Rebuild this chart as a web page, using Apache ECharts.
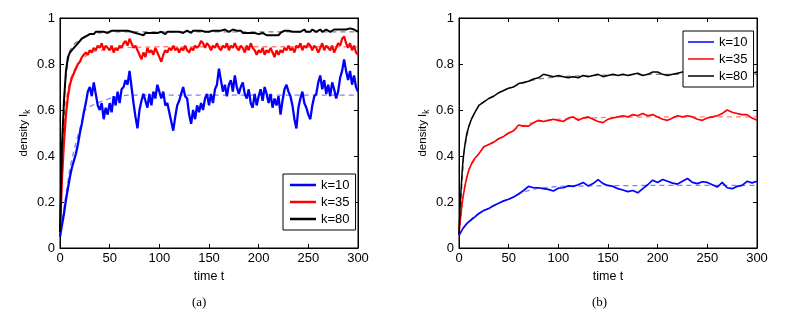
<!DOCTYPE html>
<html><head><meta charset="utf-8">
<script src="https://cdn.jsdelivr.net/npm/echarts@6/dist/echarts.min.js"></script>
<style>html,body{margin:0;padding:0;background:#fff}#c{width:791px;height:313px}</style>
</head><body><div id="c"></div>
<script>
// ---------- data ----------
const seriesNames = ['k=10', 'k=35', 'k=80'];
const colors = ['#0000ff', '#ff0000', '#000000'];
const captions = ['(a)', '(b)'];
const xTickValues = [0, 50, 100, 150, 200, 250, 300];
const yTickValues = [0, 0.2, 0.4, 0.6, 0.8, 1];

// panel (a): sampled every 2 time units, t = 0..300
const timeA = [];
for (let t = 0; t <= 300; t += 2) timeA.push(t);

const blueA = [
  .05,.10,.15,.21,.26,.31,.35,.38,.41,.45,
  .50,.54,.59,.63,.68,.70,.66,.72,.67,.62,
  .60,.63,.56,.61,.58,.63,.59,.66,.62,.68,
  .63,.69,.70,.73,.71,.77,.70,.63,.57,.52,
  .60,.64,.67,.64,.61,.67,.62,.68,.65,.71,
  .68,.65,.68,.62,.63,.59,.55,.51,.57,.62,
  .64,.67,.70,.66,.65,.58,.54,.60,.56,.62,
  .59,.63,.60,.65,.67,.62,.67,.63,.69,.71,
  .78,.73,.68,.71,.66,.71,.73,.68,.75,.70,
  .67,.70,.72,.67,.65,.69,.63,.61,.67,.62,
  .66,.69,.64,.70,.67,.63,.67,.61,.65,.62,
  .66,.58,.64,.69,.71,.68,.66,.62,.56,.52,
  .61,.65,.68,.63,.61,.58,.56,.62,.66,.67,
  .72,.75,.69,.73,.67,.71,.66,.72,.69,.65,
  .68,.74,.77,.82,.77,.73,.77,.71,.75,.70,
  .68
];
const redA = [
  .07,.30,.46,.58,.66,.71,.74,.76,.78,.80,
  .81,.83,.84,.85,.84,.86,.85,.87,.86,.88,
  .87,.89,.86,.88,.87,.86,.88,.85,.87,.86,
  .88,.87,.89,.90,.88,.91,.89,.87,.88,.86,
  .84,.82,.85,.83,.87,.85,.86,.84,.87,.85,
  .83,.81,.84,.86,.85,.87,.86,.88,.86,.87,
  .85,.87,.86,.88,.86,.85,.87,.86,.88,.87,
  .88,.90,.89,.87,.89,.88,.86,.88,.87,.89,
  .87,.86,.88,.87,.89,.86,.88,.87,.89,.87,
  .86,.88,.87,.85,.88,.86,.89,.87,.86,.84,
  .86,.85,.87,.84,.86,.85,.87,.85,.83,.86,
  .84,.86,.85,.87,.86,.88,.86,.87,.85,.88,
  .87,.89,.86,.88,.87,.89,.88,.86,.88,.87,
  .85,.87,.89,.86,.88,.87,.86,.88,.85,.87,
  .89,.88,.91,.92,.89,.87,.89,.86,.88,.85,
  .84
];
const blackA = [
  .07,.45,.64,.77,.83,.85,.86,.87,.88,.885,
  .90,.91,.915,.92,.925,.93,.935,.93,.94,.935,
  .94,.935,.94,.945,.935,.94,.945,.94,.945,.94,
  .945,.95,.945,.95,.945,.95,.94,.945,.935,.94,
  .93,.935,.925,.935,.93,.935,.93,.935,.93,.935,
  .93,.94,.935,.93,.94,.935,.94,.935,.94,.935,
  .94,.945,.935,.94,.945,.94,.935,.945,.94,.945,
  .94,.945,.95,.94,.945,.94,.935,.945,.94,.945,
  .94,.945,.94,.95,.945,.94,.945,.95,.955,.945,
  .94,.945,.935,.94,.935,.93,.935,.93,.935,.93,
  .93,.925,.935,.93,.925,.93,.925,.92,.925,.92,
  .925,.935,.94,.945,.94,.945,.95,.94,.945,.94,
  .945,.94,.945,.95,.94,.945,.94,.95,.945,.94,
  .945,.95,.94,.945,.95,.945,.94,.945,.95,.945,
  .95,.955,.95,.955,.95,.945,.955,.95,.95,.945,
  .94
];

// panel (b)
const timeB = [0,1,2,3,4,6,8,10,13,16,20,
  25,30,35,40,45,50,55,60,65,70,
  75,80,85,90,95,100,105,110,115,120,
  125,130,135,140,145,150,155,160,165,170,
  175,180,185,190,195,200,205,210,215,220,
  225,230,235,240,245,250,255,260,265,270,
  275,280,285,290,295,300];
const blueB = [.055,.06,.07,.078,.085,.097,.107,.115,.125,.135,.15,
  .163,.172,.185,.195,.205,.212,.222,.235,.25,.268,
  .262,.262,.258,.255,.248,.26,.262,.27,.268,.275,
  .285,.27,.28,.297,.28,.272,.268,.258,.252,.245,
  .25,.24,.258,.275,.295,.285,.298,.29,.282,.278,
  .29,.302,.285,.28,.288,.285,.275,.265,.285,.262,
  .258,.268,.272,.29,.283,.29];
const redB = [.06,.11,.15,.19,.22,.27,.31,.34,.37,.39,.41,
  .44,.45,.46,.475,.485,.50,.51,.535,.53,.53,
  .545,.555,.55,.555,.56,.555,.55,.565,.57,.555,
  .565,.57,.56,.55,.545,.56,.565,.57,.575,.57,
  .58,.575,.585,.575,.58,.57,.56,.555,.565,.575,
  .57,.575,.57,.56,.555,.565,.57,.575,.585,.60,
  .59,.585,.58,.58,.565,.555];
const blackB = [.06,.17,.25,.32,.38,.45,.50,.53,.565,.59,.62,
  .635,.65,.66,.675,.685,.695,.70,.715,.72,.725,
  .735,.74,.755,.75,.745,.75,.745,.74,.745,.74,
  .75,.745,.75,.755,.745,.75,.755,.75,.755,.75,
  .755,.76,.75,.755,.765,.765,.755,.75,.755,.76,
  .765,.765,.76,.755,.76,.765,.755,.76,.765,.76,
  .765,.755,.76,.765,.76,.765];

// mean-field (dashed) curves
const theoryTime = [0,5,10,15,20,25,30,40,50,60,70,80,100,150,200,250,300];
const theoryBlueA  = [.05,.20,.35,.44,.52,.60,.615,.635,.65,.66,.665,.665,.665,.665,.665,.665,.665];
const theoryRedA   = [.07,.62,.73,.78,.81,.83,.85,.86,.865,.87,.872,.873,.875,.875,.875,.875,.875];
const theoryBlackA = [.07,.72,.86,.89,.905,.92,.93,.935,.94,.94,.94,.94,.94,.94,.94,.94,.94];
const theoryBlueB  = [.055,.09,.115,.135,.15,.163,.172,.195,.212,.235,.25,.26,.268,.271,.272,.272,.272];
const theoryRedB   = [.06,.25,.34,.38,.41,.44,.45,.475,.50,.525,.54,.55,.56,.568,.57,.57,.57];
const theoryBlackB = [.06,.42,.53,.58,.62,.635,.65,.675,.695,.71,.725,.735,.745,.752,.755,.755,.755];

// ---------- chart ----------
const FONT = 'Liberation Sans, Arial, Helvetica, sans-serif';
const pair = (ts, vs) => ts.map((t, i) => [t, vs[i]]);

const grids = [
  { left: 60, top: 18, width: 298, height: 230 },
  { left: 459, top: 18, width: 298, height: 230 }
];

function xAx(gi, pos) {
  const main = pos === 'bottom';
  return {
    type: 'value', gridIndex: gi, position: pos, min: 0, max: 300, interval: 50,
    axisLine: { show: true, onZero: false, lineStyle: { color: '#000', width: 1 } },
    axisTick: { show: true, inside: true, length: 4, lineStyle: { color: '#000' } },
    axisLabel: { show: main, margin: 4, color: '#000', fontSize: 13, fontFamily: FONT },
    splitLine: { show: false },
    name: main ? 'time t' : '', nameLocation: 'middle', nameGap: 19,
    nameTextStyle: { color: '#000', fontSize: 12.5, fontFamily: FONT }
  };
}
function yAx(gi, pos) {
  const main = pos === 'left';
  return {
    type: 'value', gridIndex: gi, position: pos, min: 0, max: 1, interval: 0.2,
    axisLine: { show: true, onZero: false, lineStyle: { color: '#000', width: 1 } },
    axisTick: { show: true, inside: true, length: 4, lineStyle: { color: '#000' } },
    axisLabel: { show: main, margin: 5, color: '#000', fontSize: 13, fontFamily: FONT },
    splitLine: { show: false },
    name: main ? 'density I{s|k}' : '', nameLocation: 'middle', nameGap: 29, nameRotate: 90,
    nameTextStyle: {
      color: '#000', fontSize: 11.5, fontFamily: FONT, lineHeight: 14,
      rich: { s: { fontSize: 8.5, fontFamily: FONT, color: '#000', lineHeight: 10, padding: [8, 0, 0, 0] } }
    }
  };
}

const series = [];
const panels = [
  { t: timeA, data: [blueA, redA, blackA], th: [theoryBlueA, theoryRedA, theoryBlackA], w: [2.3, 2.2, 2.0] },
  { t: timeB, data: [blueB, redB, blackB], th: [theoryBlueB, theoryRedB, theoryBlackB], w: [1.7, 1.6, 1.5] }
];
panels.forEach((p, gi) => {
  p.th.forEach((vals, k) => {
    series.push({
      type: 'line', name: 'theory ' + seriesNames[k], xAxisIndex: gi * 2, yAxisIndex: gi * 2,
      data: pair(theoryTime, vals), showSymbol: false, symbol: 'none', silent: true, z: 1,
      lineStyle: { color: colors[k], width: 1.3, type: [5, 4], opacity: 0.5 }, itemStyle: { color: colors[k] }
    });
  });
  p.data.forEach((vals, k) => {
    series.push({
      type: 'line', name: seriesNames[k], xAxisIndex: gi * 2, yAxisIndex: gi * 2,
      data: pair(p.t, vals), showSymbol: false, symbol: 'none', z: 3,
      lineStyle: { color: colors[k], width: p.w[k] }, itemStyle: { color: colors[k] }
    });
  });
});

const legendBase = {
  orient: 'vertical', data: seriesNames, icon: 'rect', itemWidth: 26, itemGap: 3,
  backgroundColor: '#fff', borderColor: '#000', borderWidth: 1,
  textStyle: { color: '#000', fontSize: 13, fontFamily: FONT, lineHeight: 14 },
  selectedMode: false
};

const option = {
  animation: false,
  backgroundColor: '#fff',
  grid: grids.map(g => Object.assign({ show: true, borderColor: '#000', borderWidth: 1, backgroundColor: 'transparent' }, g)),
  xAxis: [xAx(0, 'bottom'), xAx(0, 'top'), xAx(1, 'bottom'), xAx(1, 'top')],
  yAxis: [yAx(0, 'left'), yAx(0, 'right'), yAx(1, 'left'), yAx(1, 'right')],
  legend: [
    Object.assign({}, legendBase, { left: 283, top: 174, itemHeight: 2.5, padding: [4, 6, 4, 7] }),
    Object.assign({}, legendBase, { left: 683, top: 31, itemHeight: 1.5, padding: [4, 6, 4, 5] })
  ],
  graphic: [
    { type: 'text', left: 192, top: 296, style: { text: captions[0], fill: '#000', font: '13px "Liberation Serif", "Times New Roman", serif' } },
    { type: 'text', left: 592, top: 296, style: { text: captions[1], fill: '#000', font: '13px "Liberation Serif", "Times New Roman", serif' } }
  ],
  series: series
};

const chart = echarts.init(document.getElementById('c'), null, { renderer: 'canvas' });
chart.setOption(option);
</script>
</body></html>
